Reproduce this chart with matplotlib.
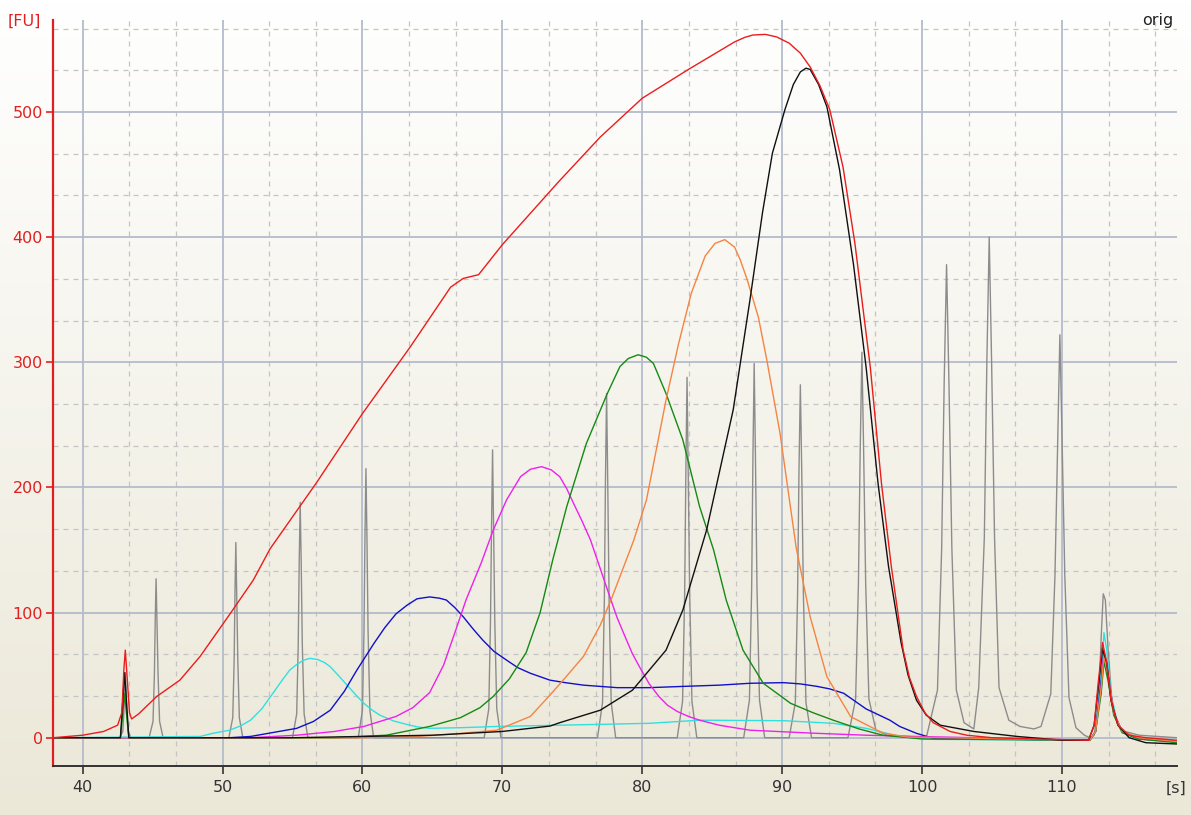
import numpy as np
import matplotlib
matplotlib.use("Agg")
import matplotlib.pyplot as plt
from matplotlib.ticker import MultipleLocator

plt.rcParams['font.family'] = ['DejaVu Sans']

# ---------------- data ----------------
red_x = [37.9, 40, 41.5, 42.5, 42.8, 42.95, 43.05, 43.2, 43.35, 43.5, 44.0, 45.3, 46.95, 48.4,
         50.6, 52.2, 53.4, 56.7, 60.0, 63.4, 66.3, 67.2, 68.3, 70, 72, 74, 77.0, 80.0, 83.3,
         86.6, 87.3, 87.9, 88.8, 89.6, 90.5, 91.3, 92.0, 92.7, 93.4, 94.35, 95.2, 96.3, 97.1,
         97.8, 98.65, 99.1, 99.6, 100.2, 100.8, 102, 103.2, 105, 108, 111.9, 112.3, 112.6,
         112.9, 113.2, 113.5, 114, 114.8, 116, 118.2]
red_y = [0, 2, 5, 10, 20, 55, 70, 45, 20, 15, 19, 33, 46, 65,
         100, 126, 151, 203.5, 259, 312, 360, 367, 370, 394, 419, 444, 480, 511, 534,
         556, 559.5, 561.5, 562, 560, 555, 547, 536, 521, 502, 456, 395, 296, 203,
         137, 70, 48, 33, 20, 12, 5, 2, 0, -1, -2, 10, 45,
         76, 60, 30, 10, 2, 0, -2]

black_x = [37.9, 42.7, 43.0, 43.3, 55, 60, 65, 70, 73.4, 74.1, 77.0, 79.3, 81.7, 82.9, 84.6,
           86.5, 87.7, 88.6, 89.3, 90.2, 90.8, 91.3, 91.7, 92.0, 92.6, 93.2, 94.1, 95.1, 96.0,
           96.85, 97.6, 98.5, 99.0, 99.6, 100.3, 101.3, 103.7, 106.8, 110, 111.9, 112.3, 112.6,
           112.9, 113.2, 113.5, 114, 114.8, 116, 118.2]
black_y = [0, 0, 52, 0, 0, 1, 2, 5, 9.3, 12, 22, 38, 70, 102, 166,
           262, 350, 420, 467, 502, 522, 532, 535, 534, 522, 504, 454, 378, 296,
           203.5, 137, 76, 50, 30, 18, 10, 5, 1, -2, -2, 10, 40,
           71, 60, 30, 10, 0, -4, -5]

orange_x = [37.9, 60, 63.9, 66.5, 69.6, 72.0, 73.4, 74.5, 75.8, 77.0, 77.8, 79.4, 80.3, 81.7,
            82.6, 83.5, 84.5, 85.2, 85.9, 86.6, 87.0, 87.5, 88.3, 88.9, 89.85, 91.0, 92.0,
            93.2, 94.9, 97.2, 99, 112, 112.4, 112.8, 113.0, 113.3, 113.7, 114.3, 115.5, 118.2]
orange_y = [0, 0, 1, 3, 6, 17, 34, 48, 65, 90, 111, 158, 190, 270,
            315, 355, 385, 395, 398, 392, 382, 366, 336, 302, 243, 152, 96.7,
            48.7, 16.8, 3.7, 0.5, -2, 5, 40, 65, 50, 20, 5, 0, -3]

green_x = [37.9, 42.7, 43.0, 43.3, 58, 61.7, 64.8, 67, 68.4, 69.35, 70.5, 71.7, 72.7, 73.6,
           74.6, 76.0, 77.5, 78.4, 79.0, 79.7, 80.3, 80.8, 81.7, 82.9, 84.1, 85.1, 86.0, 87.2,
           88.65, 90.6, 92.2, 93.65, 95.5, 97.2, 100, 112, 112.4, 112.8, 113.0, 113.3, 113.7,
           114.3, 115.5, 118.2]
green_y = [0, 0, 35, 0, 0, 2, 9, 16, 24, 33, 47, 68, 100, 142,
           184.6, 235, 275, 296.5, 303, 306, 304, 299, 275, 238, 184.6, 150, 110, 70,
           43.5, 27.5, 20, 14, 7, 2, -1, -2, 5, 35, 61, 45, 18,
           4, -1, -4]

magenta_x = [37.9, 52, 55.3, 58, 60.1, 62.4, 63.6, 64.8, 65.8, 66.7, 67.4, 68.5, 69.35, 70.3,
             71.3, 72.0, 72.8, 73.5, 74.1, 74.6, 75.1, 75.7, 76.3, 77.0, 77.7, 78.2, 78.8,
             79.3, 79.8, 80.5, 81.2, 81.8, 82.5, 83.3, 84.1, 85.5, 87.7, 92.5, 96, 99.6, 112,
             112.4, 112.8, 113.0, 113.3, 113.7, 114.3, 115.5, 118.2]
magenta_y = [0, 0, 2, 5, 9, 17, 24, 36, 58, 87, 110, 140, 166, 190,
             208.6, 214.5, 216.6, 214, 208.6, 199, 187, 173, 158, 135, 112, 96, 80,
             67, 56.7, 43, 32.8, 26, 21, 17, 14, 10, 6, 3.5, 2, 1, -2,
             5, 40, 68, 50, 20, 5, -1, -3]

blue_x = [37.9, 50.5, 52.0, 55.3, 56.5, 57.7, 58.7, 59.6, 60.8, 61.6, 62.4, 63.2, 63.9, 64.8,
          65.5, 66.0, 66.6, 67.2, 67.9, 68.6, 69.4, 70.3, 71.1, 72.0, 73.4, 74.5, 75.8, 78.2,
          80.5, 82.9, 85.5, 87.7, 90.1, 91.3, 92.5, 93.4, 94.4, 96.0, 97.7, 98.4, 99.6, 100.8,
          112.0, 112.4, 112.8, 113.0, 113.3, 113.7, 114.3, 115.5, 118.2]
blue_y = [0, 0, 1, 7.5, 13, 22, 37, 54, 75, 88, 99, 106, 111, 112.5,
          111.5, 110, 104, 96.7, 87, 78, 69, 62, 56, 51.5, 46, 44, 42, 40,
          40, 41, 42, 43.5, 44, 43, 41, 39, 35.5, 23, 14, 9, 3.5, -0.5,
          -2, 5, 45, 68, 50, 20, 5, -1, -3]

cyan_x = [37.9, 48.4, 49.3, 50.5, 51.3, 52.0, 52.8, 53.6, 54.2, 54.8, 55.3, 55.8, 56.25, 56.8,
          57.3, 57.7, 58.3, 58.9, 59.5, 60.1, 60.7, 61.25, 62.2, 63.2, 64.0, 64.8, 67, 69.6,
          74.1, 80.5, 84.1, 90.1, 93.65, 96.0, 98.4, 100.8, 112.0, 112.4, 112.8, 113.0, 113.2,
          113.5, 114, 115, 118.2]
cyan_y = [0, 1, 3.5, 6, 9.5, 14, 23, 35.5, 45, 54, 58.5, 62, 63.4, 62.5,
          60, 56.7, 49.5, 42, 34.5, 27.5, 22, 18, 13.5, 10.5, 8.5, 7.5, 8, 9,
          10, 11.5, 14, 13.6, 11.5, 7.5, 1, -1.3, -2, 5, 50, 84, 70,
          35, 10, 0, -3]

gray_x = [37.9, 42.65, 42.87, 42.95, 43.0, 43.05, 43.1, 43.16, 43.25, 43.45,
          44.75, 45.03, 45.13, 45.19, 45.25, 45.31, 45.39, 45.5, 45.75,
          50.45, 50.73, 50.83, 50.89, 50.95, 51.01, 51.09, 51.2, 51.45,
          55.0, 55.3, 55.41, 55.48, 55.55, 55.62, 55.7, 55.83, 56.1,
          59.7, 60.0, 60.11, 60.18, 60.25, 60.32, 60.4, 60.53, 60.8,
          68.7, 69.03, 69.15, 69.23, 69.3, 69.37, 69.46, 69.6, 69.9,
          76.8, 77.16, 77.29, 77.37, 77.45, 77.53, 77.63, 77.78, 78.1,
          82.5, 82.88, 83.03, 83.12, 83.2, 83.28, 83.39, 83.55, 83.9,
          87.25, 87.66, 87.82, 87.91, 88.0, 88.09, 88.2, 88.38, 88.75,
          90.5, 90.94, 91.1, 91.2, 91.3, 91.4, 91.52, 91.7, 92.1,
          94.7, 95.25, 95.45, 95.58, 95.7, 95.82, 95.97, 96.2, 96.7, 97.5, 100.3,
          101.1, 101.4, 101.58, 101.75, 101.92, 102.13, 102.45, 103.0, 103.7,
          104.05, 104.45, 104.63, 104.8, 104.97, 105.18, 105.5, 106.2, 107.0, 108.0, 108.5,
          109.2, 109.5, 109.7, 109.85, 110.0, 110.2, 110.5, 111.0, 111.6, 112.0,
          112.3, 112.6, 112.8, 112.95, 113.1, 113.3, 113.6, 114.0, 114.5, 115.5, 118.2]
gray_y = [0, 0, 5, 21, 39, 52, 39, 21, 5, 0,
          0, 13, 51, 95, 127, 95, 51, 13, 0,
          0, 16, 62, 117, 156, 117, 62, 16, 0,
          0, 19, 75, 141, 188, 141, 75, 19, 0,
          0, 22, 86, 161, 215, 161, 86, 22, 0,
          0, 23, 92, 172, 230, 172, 92, 23, 0,
          0, 28, 110, 206, 275, 206, 110, 28, 0,
          0, 29, 115, 216, 288, 216, 115, 29, 0,
          0, 30, 120, 224, 299, 224, 120, 30, 0,
          0, 28, 113, 212, 282, 212, 113, 28, 0,
          0, 31, 123, 231, 308, 231, 123, 31, 6, 2, 0,
          38, 151, 284, 378, 284, 151, 38, 12, 7,
          40, 160, 300, 400, 300, 160, 40, 14, 9, 7, 9,
          35, 130, 242, 322, 242, 130, 32, 8, 2, 0,
          2, 25, 80, 115, 110, 70, 25, 10, 5, 2, 0]

x_ticks = [40, 50, 60, 70, 80, 90, 100, 110]
y_ticks = [0, 100, 200, 300, 400, 500]

# ---------------- figure ----------------
W, H = 1191, 815
fig = plt.figure(figsize=(W / 100, H / 100), dpi=100)

# background gradient (white at top -> beige at bottom)
bg = fig.add_axes([0, 0, 1, 1], zorder=-10)
top = np.array([255, 255, 255]) / 255.0
bot = np.array([235, 232, 216]) / 255.0
t = np.linspace(0, 1, 256)[:, None]
grad = (top[None, :] * (1 - t) + bot[None, :] * t)[:, None, :]
bg.imshow(grad, aspect='auto', extent=[0, 1, 0, 1], origin='upper')
bg.set_axis_off()

left, right = 52.7 / W, 1176.7 / W
bottom, topp = 1 - 766 / H, 1 - 20 / H
ax = fig.add_axes([left, bottom, right - left, topp - bottom])
ax.patch.set_alpha(0)

ax.set_xlim(37.86, 118.2)
ax.set_ylim(-22.6, 573.5)

ax.set_xticks(x_ticks)
ax.set_yticks(y_ticks)
ax.xaxis.set_minor_locator(MultipleLocator(10 / 3))
ax.yaxis.set_minor_locator(MultipleLocator(100 / 3))
ax.grid(which='minor', color='#c4c4c4', linestyle=(0, (4, 4)), linewidth=0.9, zorder=0)
ax.grid(which='major', color='#b3bccd', linestyle='-', linewidth=1.3, zorder=0)
ax.set_axisbelow(True)

ax.tick_params(which='minor', length=0)
ax.tick_params(axis='x', which='major', length=6, width=1.2, color='#333333',
               labelcolor='#333333', labelsize=11.5, pad=4)
ax.tick_params(axis='y', which='major', length=5, width=1.2, color='#e02020',
               labelcolor='#e02020', labelsize=11.5, pad=2)

for s in ['top', 'right']:
    ax.spines[s].set_visible(False)
ax.spines['left'].set_color('#e02020')
ax.spines['left'].set_linewidth(1.6)
ax.spines['bottom'].set_color('#333333')
ax.spines['bottom'].set_linewidth(1.4)

lw = 1.0
ax.plot(gray_x, gray_y, color='#8c8c8c', lw=lw, zorder=2)
ax.plot(cyan_x, cyan_y, color='#2fe0e0', lw=lw, zorder=3)
ax.plot(blue_x, blue_y, color='#1010c8', lw=lw, zorder=3)
ax.plot(magenta_x, magenta_y, color='#ee20ee', lw=lw, zorder=3)
ax.plot(green_x, green_y, color='#148a14', lw=lw, zorder=3)
ax.plot(orange_x, orange_y, color='#f58442', lw=lw, zorder=3)
ax.plot(black_x, black_y, color='#101010', lw=lw, zorder=4)
ax.plot(red_x, red_y, color='#ec1c1c', lw=lw, zorder=5)

fig.text(8 / W, 1 - 21 / H, '[FU]', color='#e02020', fontsize=11.5, ha='left', va='center')
fig.text(1186 / W, 1 - 788 / H, '[s]', color='#333333', fontsize=11.5, ha='right', va='center')
fig.text(1173 / W, 1 - 20 / H, 'orig', color='#222222', fontsize=11.5, ha='right', va='center')

fig.savefig('out.png', dpi=100)
